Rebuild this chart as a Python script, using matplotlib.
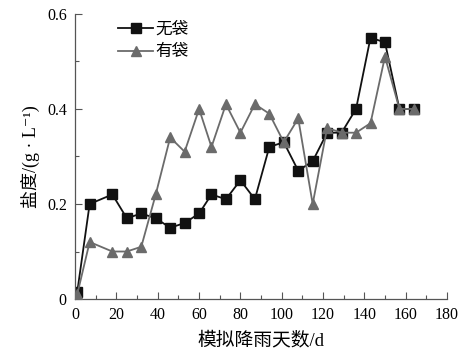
import matplotlib
matplotlib.use('Agg')
import matplotlib.pyplot as plt
from matplotlib.ticker import MultipleLocator

# 模拟降雨天数 (d)
days = [1, 7, 18, 25, 32, 39, 46, 53, 60, 66, 73, 80, 87, 94, 101, 108, 115, 122, 129, 136, 143, 150, 157, 164]

# 盐度 (g/L)
no_bag = [0.015, 0.20, 0.22, 0.17, 0.18, 0.17, 0.15, 0.16, 0.18, 0.22, 0.21, 0.25,
          0.21, 0.32, 0.33, 0.27, 0.29, 0.35, 0.35, 0.40, 0.55, 0.54, 0.40, 0.40]
with_bag = [0.01, 0.12, 0.10, 0.10, 0.11, 0.22, 0.34, 0.31, 0.40, 0.32, 0.41, 0.35,
            0.41, 0.39, 0.33, 0.38, 0.20, 0.36, 0.35, 0.35, 0.37, 0.51, 0.40, 0.40]

xticks = [0, 20, 40, 60, 80, 100, 120, 140, 160, 180]
yticks = [0, 0.2, 0.4, 0.6]
ytick_labels = ['0', '0.2', '0.4', '0.6']

# serif for latin glyphs, CJK falls through to Noto
fams = ['Liberation Serif', 'Noto Sans CJK SC', 'DejaVu Sans']

fig = plt.figure(figsize=(4.67, 3.56), dpi=100)
ax = fig.add_axes([0.161, 0.160, 0.796, 0.801])

ax.plot(days, no_bag, color='#111111', lw=1.3, marker='s', ms=6.5,
        markerfacecolor='#111111', markeredgecolor='#111111', label='无袋', zorder=2)
ax.plot(days, with_bag, color='#6b6b6b', lw=1.3, marker='^', ms=7.5,
        markerfacecolor='#6b6b6b', markeredgecolor='#6b6b6b', label='有袋', zorder=3)

ax.set_xlim(0, 180)
ax.set_ylim(0, 0.6)
ax.set_xticks(xticks)
ax.set_yticks(yticks)
ax.set_yticklabels(ytick_labels)
ax.xaxis.set_minor_locator(MultipleLocator(10))
ax.yaxis.set_minor_locator(MultipleLocator(0.1))
ax.tick_params(which='major', direction='in', length=5, width=0.8, color='#555555', pad=6)
ax.tick_params(which='minor', direction='in', length=3, width=0.8, color='#555555')
for lab in ax.get_xticklabels() + ax.get_yticklabels():
    lab.set_fontfamily('Liberation Serif')
    lab.set_fontsize(11.5)
ax.spines['top'].set_visible(False)
ax.spines['right'].set_visible(False)
for s in ['left', 'bottom']:
    ax.spines[s].set_color('#555555')
    ax.spines[s].set_linewidth(0.9)

ax.set_xlabel('模拟降雨天数/d', family=fams, fontsize=13.5, labelpad=6)
ax.set_ylabel('盐度/(g · L⁻¹)', family=fams, fontsize=13, labelpad=5)

ax.legend(loc='upper left', bbox_to_anchor=(0.075, 1.025), frameon=False,
          prop={'family': fams, 'size': 12}, handlelength=2.1, handletextpad=0.15,
          labelspacing=0.4)

fig.savefig('out.png', dpi=100)
